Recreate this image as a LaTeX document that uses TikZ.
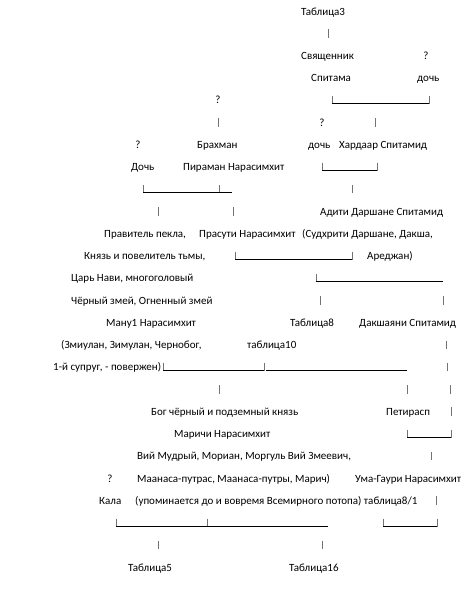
\documentclass[tikz,border=0pt]{standalone}
\usepackage{fontspec}
\setmainfont{Carlito}
\begin{document}
\begin{tikzpicture}[x=1pt,y=-1pt,
  txt/.style={anchor=base west,inner sep=0pt,font=\fontsize{11}{13}\selectfont},
  qm/.style={anchor=base,inner sep=0pt,font=\fontsize{11}{13}\selectfont},
  pipe/.style={draw=black!55,line width=0.7pt},
  under/.style={draw=black,line width=0.75pt}]
\newcommand\Tx[4]{\node[txt] (#1) at (#2,{15+22.24*#3}) {#4};}
\newcommand\Qm[3]{\node[qm] (#1) at (#2,{15+22.24*#3}) {?};}
\newcommand\Pp[2]{\draw[pipe] (#1,{15+22.24*#2-8}) -- (#1,{15+22.24*#2+0.5});}
\newcommand\Uu[3]{\draw[under] (#1,{15+22.24*#3-0.6}) -- (#2,{15+22.24*#3-0.6});}
\fill[white] (0,0) rectangle (476,589);
\useasboundingbox (0,0) rectangle (476,589);
% row 0
\Tx{tab3}{301}{0}{Таблица3}
\Pp{328}{1}
\Tx{svyash}{301}{2}{Священник}
\Qm{q1}{426}{2}
\Tx{spitama}{311}{3}{Спитама}
\Tx{doch1}{417}{3}{дочь}
\Qm{q2}{218}{4}
\Pp{332}{4}\Uu{332}{429}{4}\Pp{429}{4}
\Pp{218}{5}
\Qm{q3}{322}{5}
\Pp{375}{5}
\Qm{q4}{138}{6}
\Tx{brahman}{197}{6}{Брахман}
\Tx{doch2}{308}{6}{дочь}
\Tx{hardaar}{339}{6}{Хардаар Спитамид}
\Tx{doch3}{131}{7}{Дочь}
\Tx{piraman}{183}{7}{Пираман Нарасимхит}
\Pp{322}{7}\Uu{322}{377}{7}\Pp{377}{7}
\Pp{143}{8}\Uu{143}{219}{8}\Pp{219}{8}\Uu{219}{232}{8}
\Pp{352}{8}
\Pp{158}{9}\Pp{233}{9}
\Tx{aditi}{320}{9}{Адити Даршане Спитамид}
\Tx{pravitel}{104}{10}{Правитель пекла,}
\Tx{prasuti}{199}{10}{Прасути Нарасимхит}
\Tx{sudhriti}{302}{10}{(Судхрити Даршане, Дакша,}
\Tx{knyaz}{84}{11}{Князь и повелитель тьмы,}
\Pp{235}{11}\Uu{235}{352}{11}\Pp{352}{11}
\Tx{aredzhan}{367}{11}{Ареджан)}
\Tx{tsar}{71}{12}{Царь Нави, многоголовый}
\Pp{316}{12}\Uu{316}{443}{12}
\Tx{cherny}{71}{13}{Чёрный змей, Огненный змей}
\Pp{320}{13}\Pp{443}{13}
\Tx{manu}{106}{14}{Ману1 Нарасимхит}
\Tx{tab8}{290}{14}{Таблица8}
\Tx{dakshayani}{359}{14}{Дакшаяни Спитамид}
\Tx{zmiulan}{61}{15}{(Змиулан, Зимулан, Чернобог,}
\Tx{tab10}{247}{15}{таблица10}
\Pp{446}{15}
\Tx{supruga}{53}{16}{1-й супруг, - повержен)}
\Pp{163}{16}\Uu{163}{264}{16}\Pp{264}{16}\Uu{266}{407}{16}
\Pp{447}{16}
\Pp{219}{17}\Pp{407}{17}\Pp{450}{17}
\Tx{bog}{151}{18}{Бог чёрный и подземный князь}
\Tx{petirasp}{386}{18}{Петирасп}
\Pp{451}{18}
\Tx{marichi}{174}{19}{Маричи Нарасимхит}
\Pp{407}{19}\Uu{407}{451}{19}\Pp{451}{19}
\Tx{viy}{137}{20}{Вий Мудрый, Мориан, Моргуль Вий Змеевич,}
\Pp{431}{20}
\Qm{q5}{110}{21}
\Tx{maanasa}{137}{21}{Маанаса-путрас, Маанаса-путры, Марич)}
\Tx{uma}{355}{21}{Ума-Гаури Нарасимхит}
\Tx{kala}{99}{22}{Кала}
\Tx{upom}{135}{22}{(упоминается до и вовремя Всемирного потопа) таблица8/1}
\Pp{436}{22}
\Pp{116}{23}\Uu{116}{207}{23}\Pp{207}{23}\Uu{207}{328}{23}
\Pp{383}{23}\Uu{383}{437}{23}\Pp{437}{23}
\Pp{158}{24}\Pp{322}{24}
\Tx{tab5}{128}{25}{Таблица5}
\Tx{tab16}{289}{25}{Таблица16}
\end{tikzpicture}
\end{document}
